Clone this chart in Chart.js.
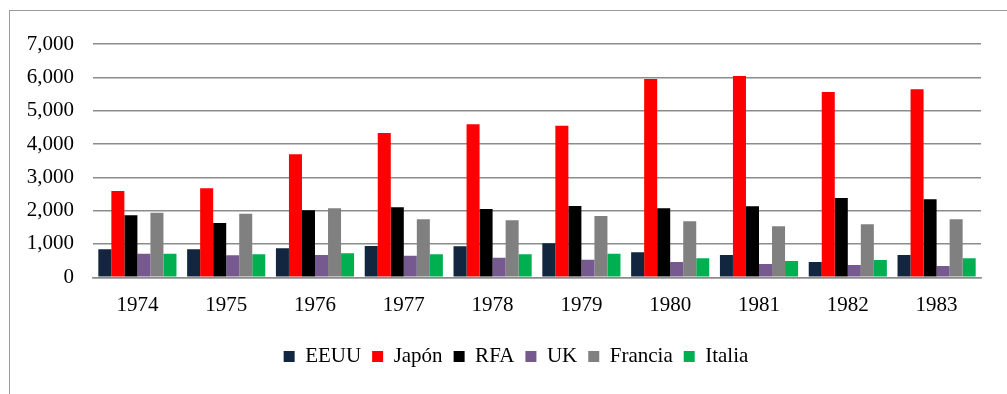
<!DOCTYPE html>
<html>
<head>
<meta charset="utf-8">
<script src="https://cdn.jsdelivr.net/npm/chart.js@4.4.1/dist/chart.umd.min.js"></script>
<style>
  html, body { margin: 0; padding: 0; background: #ffffff; overflow: hidden; }
  #wrap { position: relative; width: 1007px; height: 394px; overflow: hidden; background: #ffffff; }
  #frame { position: absolute; left: 9px; top: 10px; width: 1100px; height: 500px; border: 1.5px solid #9a9a9a; box-sizing: border-box; }
  #chart { position: absolute; left: 0; top: 0; }
</style>
</head>
<body>
<div id="wrap">
  <div id="frame"></div>
  <canvas id="chart" width="1007" height="394"></canvas>
</div>
<script>
// Years on the category axis
const years = ['1974', '1975', '1976', '1977', '1978', '1979', '1980', '1981', '1982', '1983'];

// One array per country
const eeuu    = [840, 840, 870, 940, 930, 1020, 750, 670, 460, 670];
const japon   = [2590, 2670, 3690, 4330, 4590, 4550, 5950, 6040, 5560, 5640];
const rfa     = [1860, 1630, 2010, 2100, 2050, 2140, 2070, 2130, 2380, 2340];
const uk      = [710, 660, 670, 650, 590, 530, 460, 400, 370, 340];
const francia = [1940, 1910, 2070, 1740, 1710, 1840, 1680, 1530, 1590, 1740];
const italia  = [710, 690, 720, 690, 690, 710, 570, 490, 520, 570];

// Value axis range
const yMin = 0;
const yMax = 7000;
const yStep = 1000;

const FONT = { family: '"Liberation Serif", "Times New Roman", serif', size: 21 };
const GRID = '#8c8c8c';

Chart.defaults.font.family = FONT.family;

const series = [
  { label: 'EEUU',    data: eeuu,    color: '#12263f' },
  { label: 'Japón',   data: japon,   color: '#ff0000' },
  { label: 'RFA',     data: rfa,     color: '#000000' },
  { label: 'UK',      data: uk,      color: '#75598f' },
  { label: 'Francia', data: francia, color: '#808080' },
  { label: 'Italia',  data: italia,  color: '#00b050' }
];

// Centre the legend under the framed area rather than the whole canvas
const legendShift = {
  id: 'legendShift',
  afterLayout(chart) {
    const lg = chart.legend;
    if (lg) { lg.left += 25.5; lg.right += 25.5; }
  }
};

new Chart(document.getElementById('chart'), {
  type: 'bar',
  data: {
    labels: years,
    datasets: series.map(s => ({
      label: s.label,
      data: s.data,
      backgroundColor: s.color,
      borderWidth: 0,
      categoryPercentage: 0.88,
      barPercentage: 1.0
    }))
  },
  plugins: [legendShift],
  options: {
    responsive: false,
    devicePixelRatio: 1,
    animation: false,
    layout: { padding: { top: 44, right: 26, bottom: 17, left: 0 } },
    plugins: {
      tooltip: { enabled: false },
      legend: {
        position: 'bottom',
        labels: {
          font: FONT,
          color: '#000000',
          boxWidth: 11,
          boxHeight: 11,
          padding: 11
        }
      }
    },
    scales: {
      x: {
        grid: { display: false, drawTicks: false },
        border: { display: true, color: GRID, width: 1.5 },
        ticks: { font: FONT, color: '#000000', padding: 16, maxRotation: 0 },
        afterFit: (scale) => { scale.height = 57.7; }
      },
      y: {
        min: yMin,
        max: yMax,
        grid: { color: GRID, lineWidth: 1.5, drawTicks: false },
        border: { display: false },
        ticks: {
          stepSize: yStep,
          font: FONT,
          color: '#000000',
          padding: 19,
          callback: (v) => v.toLocaleString('en-US')
        },
        afterFit: (scale) => { scale.width = 93; }
      }
    }
  }
});
</script>
</body>
</html>
